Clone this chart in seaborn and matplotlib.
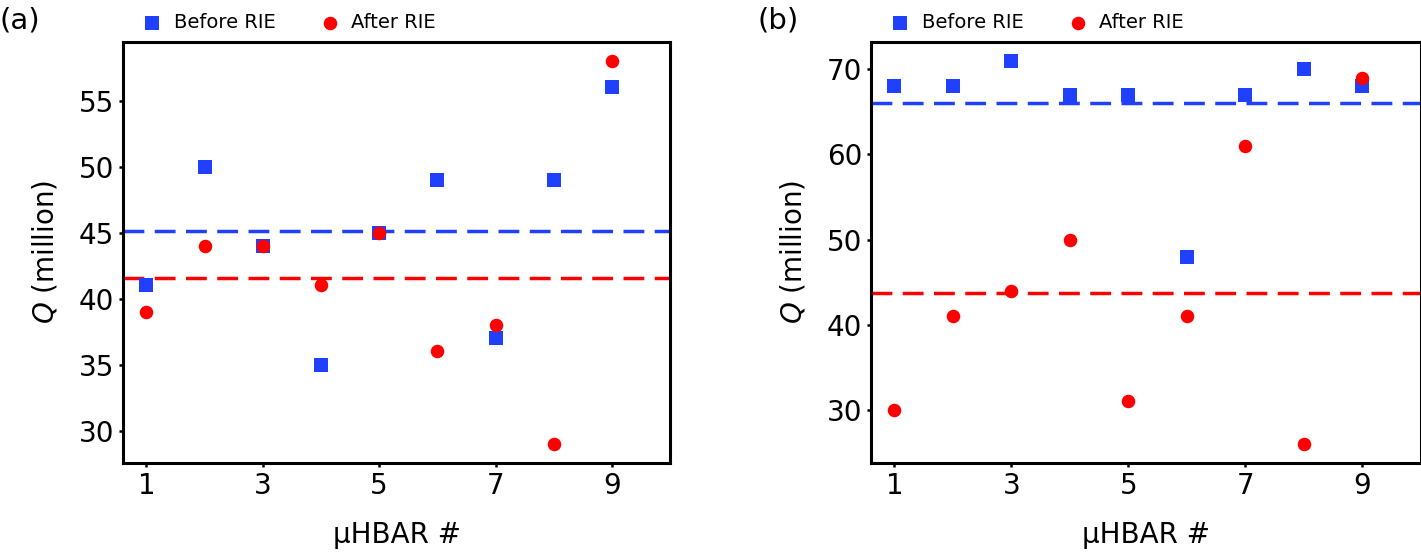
import numpy as np
import pandas as pd
import matplotlib
matplotlib.use("Agg")
import matplotlib.pyplot as plt
import seaborn as sns

hbar = [1, 2, 3, 4, 5, 6, 7, 8, 9]
before_a = [41, 50, 44, 35, 45, 49, 37, 49, 56]
after_a = [39, 44, 44, 41, 45, 36, 38, 29, 58]
before_b = [68, 68, 71, 67, 67, 48, 67, 70, 68]
after_b = [30, 41, 44, 50, 31, 41, 61, 26, 69]
xticks = [1, 3, 5, 7, 9]
yticks_a = [30, 35, 40, 45, 50, 55]
yticks_b = [30, 40, 50, 60, 70]

blue = "#2040ff"
red = "#ff0000"

sns.set_theme(style="ticks")
plt.rcParams["font.family"] = ["DejaVu Sans"]
plt.rcParams["text.color"] = "black"
plt.rcParams["axes.labelcolor"] = "black"
plt.rcParams["axes.linewidth"] = 2.2
plt.rcParams["xtick.major.width"] = 1.8
plt.rcParams["ytick.major.width"] = 1.8
plt.rcParams["xtick.major.size"] = 3
plt.rcParams["ytick.major.size"] = 3

fig = plt.figure(figsize=(14.21, 5.57), dpi=100)
ax1 = fig.add_axes([0.0866, 0.169, 0.385, 0.756])
ax2 = fig.add_axes([0.613, 0.169, 0.387, 0.756])


def panel(ax, before, after, yticks, label, lx):
    df = pd.DataFrame({"x": hbar, "before": before, "after": after})
    ax.axhline(np.mean(before), color=blue, lw=2.5, dashes=(6, 3), zorder=1)
    ax.axhline(np.mean(after), color=red, lw=2.5, dashes=(6, 3), zorder=1)
    sns.scatterplot(data=df, x="x", y="before", marker="s", color=blue, s=110,
                    linewidth=0, label="Before RIE", ax=ax, zorder=3)
    sns.scatterplot(data=df, x="x", y="after", marker="o", color=red, s=95,
                    linewidth=0, label="After RIE", ax=ax, zorder=4)
    ax.set_xlim(0.6, 10)
    ax.set_xticks(xticks)
    ax.set_yticks(yticks)
    ax.tick_params(labelsize=20, colors="black")
    ax.set_xlabel("μHBAR #", fontsize=20, labelpad=15)
    ax.set_ylabel("$Q$ (million)", fontsize=20, labelpad=14)
    ax.legend(loc="lower left", bbox_to_anchor=(0.0, 1.0), ncol=2, frameon=False,
              fontsize=14, handletextpad=0.1, columnspacing=1.8, borderaxespad=0.1)
    for s in ax.spines.values():
        s.set_color("black")
    fig.text(lx, 0.964, label, fontsize=21, ha="left", va="center")


panel(ax1, before_a, after_a, yticks_a, "(a)", 0.0)
panel(ax2, before_b, after_b, yticks_b, "(b)", 0.533)

fig.savefig("out.png", dpi=100)
